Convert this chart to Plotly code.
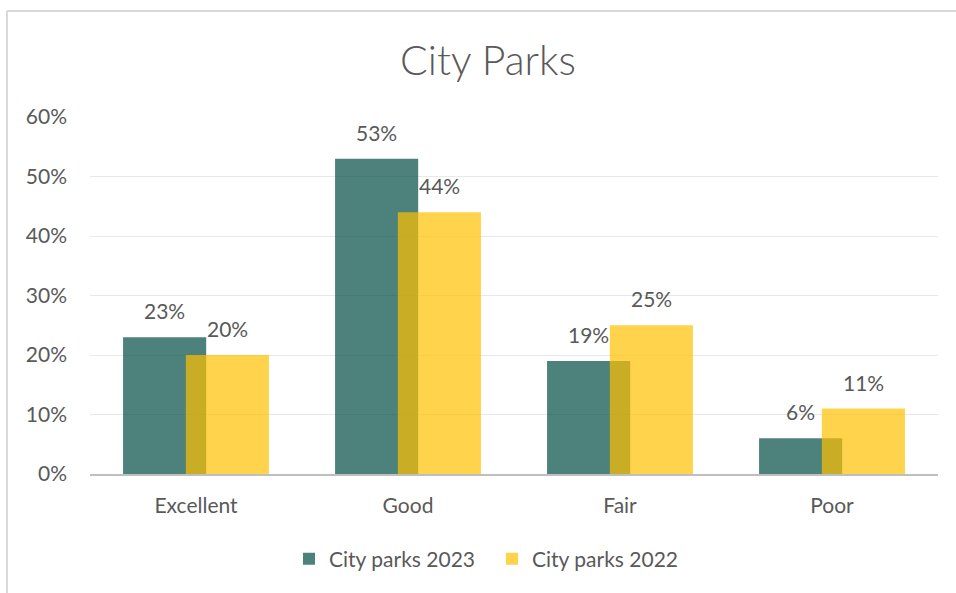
import plotly.graph_objects as go

# Survey ratings of city parks, share of respondents
categories = ["Excellent", "Good", "Fair", "Poor"]
parks_2023 = [0.23, 0.53, 0.19, 0.06]
parks_2022 = [0.20, 0.44, 0.25, 0.11]
y_ticks = [0, 0.1, 0.2, 0.3, 0.4, 0.5, 0.6]

FONT = "Lato"
TEXT_GREY = "#595959"
BAR_W = 0.392
OFF_2023 = -0.344
OFF_2022 = -0.048

series = [
    ("City parks 2023", parks_2023, "rgba(0,75,68,0.7)", OFF_2023),
    ("City parks 2022", parks_2022, "rgba(255,192,0,0.7)", OFF_2022),
]

fig = go.Figure()
annotations = []
for name, vals, color, off in series:
    fig.add_trace(go.Bar(
        name=name, x=categories, y=vals,
        width=BAR_W, offset=off,
        marker=dict(color=color, line=dict(width=0)),
    ))
    for i, v in enumerate(vals):
        annotations.append(dict(
            x=i + off + BAR_W / 2, y=v, xref="x", yref="y",
            text=f"{round(v * 100)}%", showarrow=False,
            yanchor="bottom", yshift=12,
            font=dict(family=FONT, size=21, color=TEXT_GREY),
        ))

# chart frame (top and left edges)
L, R, T, B = 90, 18, 117, 119
W, H = 956, 593
pw, ph = W - L - R, H - T - B
def px_x(p):
    return (p - L) / pw
def px_y(p):
    return 1 - (p - T) / ph

shapes = [
    dict(type="line", xref="paper", yref="paper",
         x0=px_x(7), x1=px_x(960), y0=px_y(11), y1=px_y(11),
         line=dict(color="#d9d9d9", width=2)),
    dict(type="line", xref="paper", yref="paper",
         x0=px_x(7), x1=px_x(7), y0=px_y(11), y1=px_y(600),
         line=dict(color="#d9d9d9", width=2)),
]

fig.update_layout(
    width=W, height=H,
    margin=dict(l=L, r=R, t=T, b=B),
    paper_bgcolor="white", plot_bgcolor="white",
    barmode="overlay",
    title=dict(text="City Parks", x=488 / W, xanchor="center", xref="container",
               y=1 - 61 / H, yref="container", yanchor="middle",
               font=dict(family=FONT, size=41, weight=300, color=TEXT_GREY)),
    font=dict(family=FONT, size=21, color=TEXT_GREY),
    showlegend=True,
    legend=dict(orientation="h", x=px_x(492), xanchor="center",
                y=px_y(559), yanchor="middle",
                font=dict(family=FONT, size=21, color=TEXT_GREY),
                entrywidth=158, entrywidthmode="pixels",
                itemclick=False),
    annotations=annotations,
    shapes=shapes,
)
fig.update_xaxes(
    type="category", range=[-0.5, 3.5],
    showline=True, linecolor="#bfbfbf", linewidth=2,
    showgrid=False, ticks="", ticklabelstandoff=12,
    tickfont=dict(family=FONT, size=21, color=TEXT_GREY),
)
fig.update_yaxes(
    range=[0, 0.6], tickvals=y_ticks, tickformat=".0%",
    showgrid=True, gridcolor="#e8e8e8", gridwidth=1,
    zeroline=False, showline=False, ticks="", ticklabelstandoff=22,
    tickfont=dict(family=FONT, size=21, color=TEXT_GREY),
)

fig.write_html("out.html")
